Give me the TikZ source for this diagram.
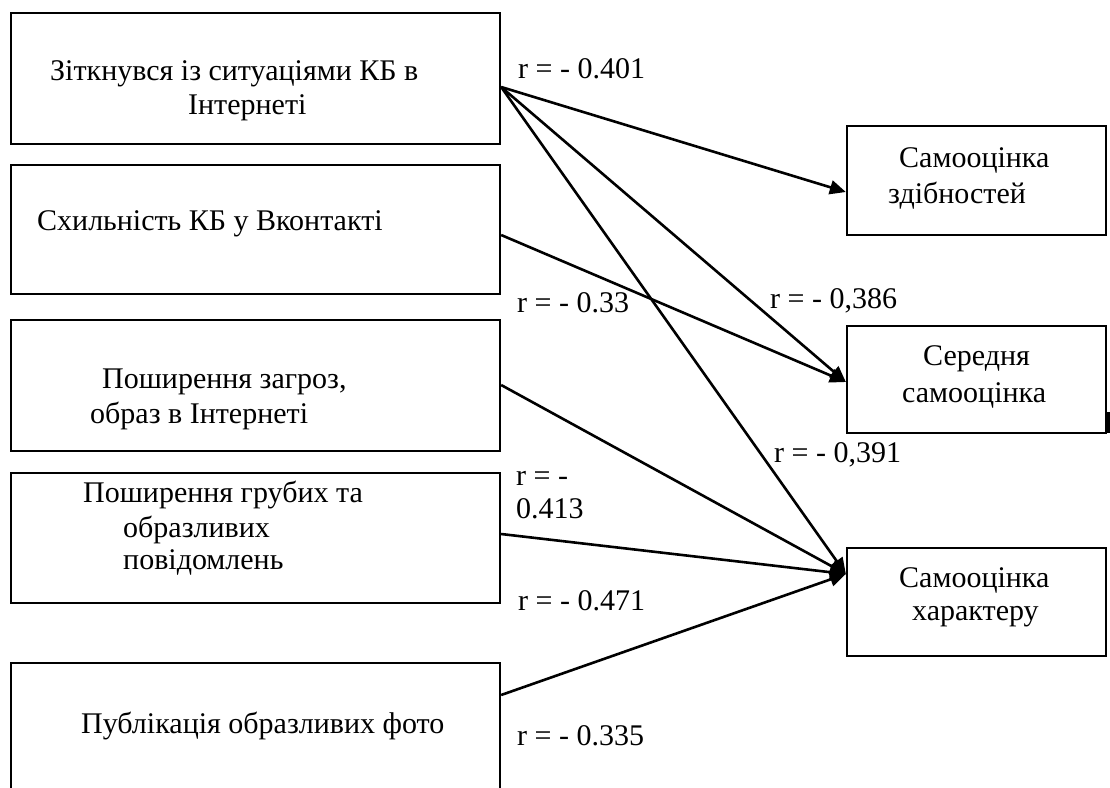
\documentclass[tikz,border=0pt]{standalone}
\usepackage{fontspec}
\setmainfont{Liberation Serif}
\usetikzlibrary{arrows.meta,calc}
\tikzset{
  box/.style={draw, line width=2.3pt, rectangle, inner sep=0pt},
  txt/.style={inner sep=0pt, anchor=base west, font=\fontsize{30}{36}\selectfont},
  conn/.style={line width=2.6pt, -{Triangle[length=16pt,width=14pt]}}
}
\begin{document}
\begin{tikzpicture}[x=1pt,y=-1pt]
\useasboundingbox (0,0) rectangle (1110,787);
\clip (0,0) rectangle (1110,787);
% left boxes
\node[box, minimum width=489pt, minimum height=131pt] (b1) at (255.5,78.5) {};
\node[box, minimum width=489pt, minimum height=129pt] (b2) at (255.5,229.5) {};
\node[box, minimum width=489pt, minimum height=131pt] (b3) at (255.5,385.5) {};
\node[box, minimum width=489pt, minimum height=130pt] (b4) at (255.5,538) {};
\node[box, minimum width=489pt, minimum height=137pt] (b5) at (255.5,731.5) {};
% right boxes
\node[box, minimum width=259pt, minimum height=109pt] (r1) at (976.5,180.5) {};
\node[box, minimum width=259pt, minimum height=107pt] (r2) at (976.5,379.5) {};
\node[box, minimum width=259pt, minimum height=108pt] (r3) at (976.5,602) {};
% texts in left boxes
\node[txt] (t1a) at (50,80) {Зіткнувся із ситуаціями КБ в};
\node[txt] (t1b) at (188,114) {Інтернеті};
\node[txt] (t2) at (37,230) {Схильність КБ у Вконтакті};
\node[txt] (t3a) at (102,388) {Поширення загроз,};
\node[txt] (t3b) at (90,423) {образ в Інтернеті};
\node[txt] (t4a) at (83,502) {Поширення грубих та};
\node[txt] (t4b) at (123,537) {образливих};
\node[txt] (t4c) at (123,569) {повідомлень};
\node[txt] (t5) at (81,733) {Публікація образливих фото};
% texts in right boxes
\node[txt] (u1a) at (899,167) {Самооцінка};
\node[txt] (u1b) at (888,203) {здібностей};
\node[txt] (u2a) at (923,365) {Середня};
\node[txt] (u2b) at (902,402) {самооцінка};
\node[txt] (u3a) at (899,587) {Самооцінка};
\node[txt] (u3b) at (912,620) {характеру};
% connector end points
\coordinate (s1) at ($(b1.east)+(0,8.5)$);
\coordinate (s2) at ($(b2.east)+(0,5.5)$);
\coordinate (s3) at ($(b3.east)+(0,-0.5)$);
\coordinate (s4) at ($(b4.east)+(0,-4)$);
\coordinate (s5) at ($(b5.east)+(0,-36.5)$);
\coordinate (e1) at ($(r1.west)+(0,11.5)$);
\coordinate (e2) at ($(r2.west)+(0,2.5)$);
\coordinate (e3) at ($(r3.west)+(0,-28)$);
% connectors
\draw[conn] (s1) -- (e1);
\draw[conn] (s1) -- (e2);
\draw[conn] (s1) -- (e3);
\draw[conn] (s2) -- (e2);
\draw[conn] (s3) -- (e3);
\draw[conn] (s4) -- (e3);
\draw[conn] (s5) -- (e3);
% correlation labels
\node[txt] (l1) at (518,78) {r = - 0.401};
\node[txt] (l2) at (517,312) {r = - 0.33};
\node[txt] (l3) at (770,308) {r = - 0,386};
\node[txt] (l4) at (774,462) {r = - 0,391};
\node[txt] (l5a) at (516,485) {r = -};
\node[txt] (l5b) at (516,518) {0.413};
\node[txt] (l6) at (518,610) {r = - 0.471};
\node[txt] (l7) at (517,745) {r = - 0.335};
% stray mark at right edge
\fill (1107,412) rectangle (1110,433);
\end{tikzpicture}
\end{document}
